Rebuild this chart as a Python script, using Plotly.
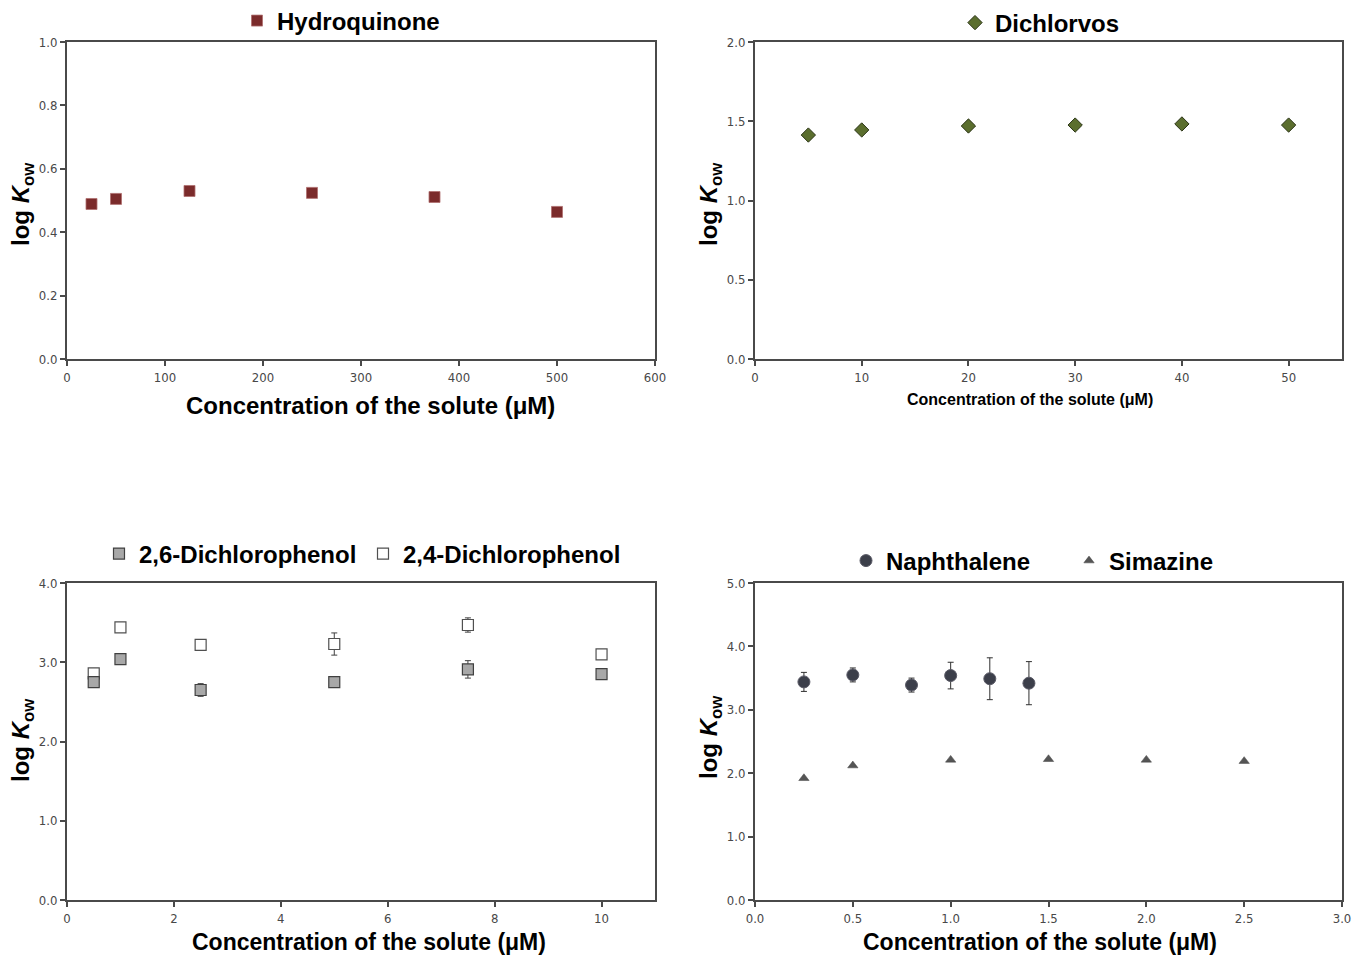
import plotly.graph_objects as go

# ---------------- data ----------------
hq_x = [25, 50, 125, 250, 375, 500]
hq_y = [0.489, 0.505, 0.530, 0.524, 0.511, 0.464]

dv_x = [5, 10, 20, 30, 40, 50]
dv_y = [1.413, 1.445, 1.470, 1.476, 1.483, 1.476]

dcp_x = [0.5, 1, 2.5, 5, 7.5, 10]
dcp26_y = [2.75, 3.04, 2.65, 2.75, 2.91, 2.85]
dcp26_err = [0.03, 0.03, 0.08, 0.04, 0.11, 0.03]
dcp24_y = [2.86, 3.44, 3.22, 3.23, 3.47, 3.10]
dcp24_err = [0.03, 0.03, 0.06, 0.14, 0.09, 0.03]

nap_x = [0.25, 0.5, 0.8, 1.0, 1.2, 1.4]
nap_y = [3.44, 3.55, 3.39, 3.54, 3.49, 3.42]
nap_err = [0.15, 0.11, 0.11, 0.21, 0.33, 0.34]

sim_x = [0.25, 0.5, 1.0, 1.5, 2.0, 2.5]
sim_y = [1.92, 2.12, 2.21, 2.22, 2.21, 2.19]

x_title = "Concentration of the solute (μM)"
y_title = "log <i>K</i><sub>ow</sub>"

# page body has an 8 px margin; size the figure so page = 1370 x 965
OFF = 8
W, H = 1370 - 2 * OFF, 965 - 2 * OFF
NARROW = "Liberation Sans Narrow, Arial Narrow, DejaVu Sans Condensed, sans-serif"
BOLD = "Liberation Sans, Arial, sans-serif"

def px(xp):
    return (xp - OFF) / W

def py(yp):
    return 1 - (yp - OFF) / H

# plot-area boxes in page pixels (left, right, top, bottom)
boxes = {
    1: (67, 655, 42, 359),
    2: (755, 1342, 42, 359),
    3: (67, 655, 583, 900),
    4: (755, 1342, 583, 900),
}

fig = go.Figure()

# Panel 1
fig.add_trace(go.Scatter(x=hq_x, y=hq_y, mode="markers", name="Hydroquinone",
                         xaxis="x", yaxis="y", legend="legend",
                         marker=dict(symbol="square", size=11, color="#7b2b2b",
                                     line=dict(color="#b07070", width=0.8))))
# Panel 2
fig.add_trace(go.Scatter(x=dv_x, y=dv_y, mode="markers", name="Dichlorvos",
                         xaxis="x2", yaxis="y2", legend="legend2",
                         marker=dict(symbol="diamond", size=11, color="#5b6e2e",
                                     line=dict(color="#2a3315", width=1))))
# Panel 3
fig.add_trace(go.Scatter(x=dcp_x, y=dcp24_y, mode="markers", name="2,4-Dichlorophenol",
                         xaxis="x3", yaxis="y3", legend="legend3", legendrank=2,
                         error_y=dict(type="data", array=dcp24_err, color="#404040",
                                      thickness=1, width=3),
                         marker=dict(symbol="square", size=11, color="white",
                                     line=dict(color="#505050", width=1.2))))
fig.add_trace(go.Scatter(x=dcp_x, y=dcp26_y, mode="markers", name="2,6-Dichlorophenol",
                         xaxis="x3", yaxis="y3", legend="legend3", legendrank=1,
                         error_y=dict(type="data", array=dcp26_err, color="#404040",
                                      thickness=1, width=3),
                         marker=dict(symbol="square", size=11, color="#a8a8a8",
                                     line=dict(color="#404040", width=1.2))))
# Panel 4
fig.add_trace(go.Scatter(x=nap_x, y=nap_y, mode="markers", name="Naphthalene",
                         xaxis="x4", yaxis="y4", legend="legend4",
                         error_y=dict(type="data", array=nap_err, color="#303030",
                                      thickness=1, width=3),
                         marker=dict(symbol="circle", size=12, color="#3c3f4a",
                                     line=dict(color="#5a5a66", width=1))))
fig.add_trace(go.Scatter(x=sim_x, y=sim_y, mode="markers", name="Simazine",
                         xaxis="x4", yaxis="y4", legend="legend4",
                         marker=dict(symbol="triangle-up", size=9, color="#555555",
                                     line=dict(color="#444444", width=0.5))))

axis_common = dict(showgrid=False, zeroline=False, showline=True, linecolor="#4a4a4a",
                   linewidth=2, mirror=True, ticks="outside", ticklen=5,
                   tickcolor="#4a4a4a", tickwidth=1.5,
                   tickfont=dict(family=NARROW, size=13, color="#484848"))

ranges = {
    1: dict(x=dict(range=[0, 600], dtick=100, tickformat="d"),
            y=dict(range=[0, 1.0], dtick=0.2, tickformat=".1f")),
    2: dict(x=dict(range=[0, 55], dtick=10, tickformat="d"),
            y=dict(range=[0, 2.0], dtick=0.5, tickformat=".1f")),
    3: dict(x=dict(range=[0, 11], dtick=2, tickformat="d"),
            y=dict(range=[0, 4.0], dtick=1, tickformat=".1f")),
    4: dict(x=dict(range=[0, 3.0], dtick=0.5, tickformat=".1f"),
            y=dict(range=[0, 5.0], dtick=1, tickformat=".1f")),
}

layout = dict(width=W, height=H, margin=dict(l=0, r=0, t=0, b=0, autoexpand=False),
              paper_bgcolor="white", plot_bgcolor="white", showlegend=True)

for i, (l, r, t, b) in boxes.items():
    sx = "" if i == 1 else str(i)
    layout["xaxis" + sx] = dict(domain=[px(l), px(r)], anchor="y" + sx,
                                tick0=0, **ranges[i]["x"], **axis_common)
    layout["yaxis" + sx] = dict(domain=[py(b), py(t)], anchor="x" + sx,
                                tick0=0, **ranges[i]["y"], **axis_common)

leg_font = dict(family=BOLD, size=24, color="black", weight="bold")
leg_common = dict(orientation="h", xanchor="left", yanchor="middle",
                  font=leg_font, bgcolor="rgba(0,0,0,0)", itemsizing="trace",
                  itemwidth=30, tracegroupgap=0)
# legend left edge = text start - ~43 px
layout["legend"] = dict(x=px(237), y=py(21), **leg_common)
layout["legend2"] = dict(x=px(955), y=py(23), **leg_common)
layout["legend3"] = dict(x=px(99), y=py(554), entrywidth=219, **leg_common)
layout["legend4"] = dict(x=px(846), y=py(561), entrywidth=178, **leg_common)

ann = []
# x-axis titles
for (xc, yc, size) in [(370, 405, 24), (1030, 399, 16), (369, 942, 23), (1040, 942, 23)]:
    ann.append(dict(text=x_title, x=px(xc), y=py(yc), xref="paper", yref="paper",
                    showarrow=False, xanchor="center", yanchor="middle", borderpad=0,
                    font=dict(family=BOLD, size=size, color="black", weight="bold")))
# y-axis titles
for (xc, yc) in [(22, 204), (710, 204), (22, 740), (710, 737)]:
    ann.append(dict(text=y_title, x=px(xc), y=py(yc), xref="paper", yref="paper",
                    showarrow=False, xanchor="center", yanchor="middle", textangle=-90,
                    borderpad=0,
                    font=dict(family=BOLD, size=24, color="black", weight="bold")))
layout["annotations"] = ann

fig.update_layout(**layout)
fig.write_html("out.html")
